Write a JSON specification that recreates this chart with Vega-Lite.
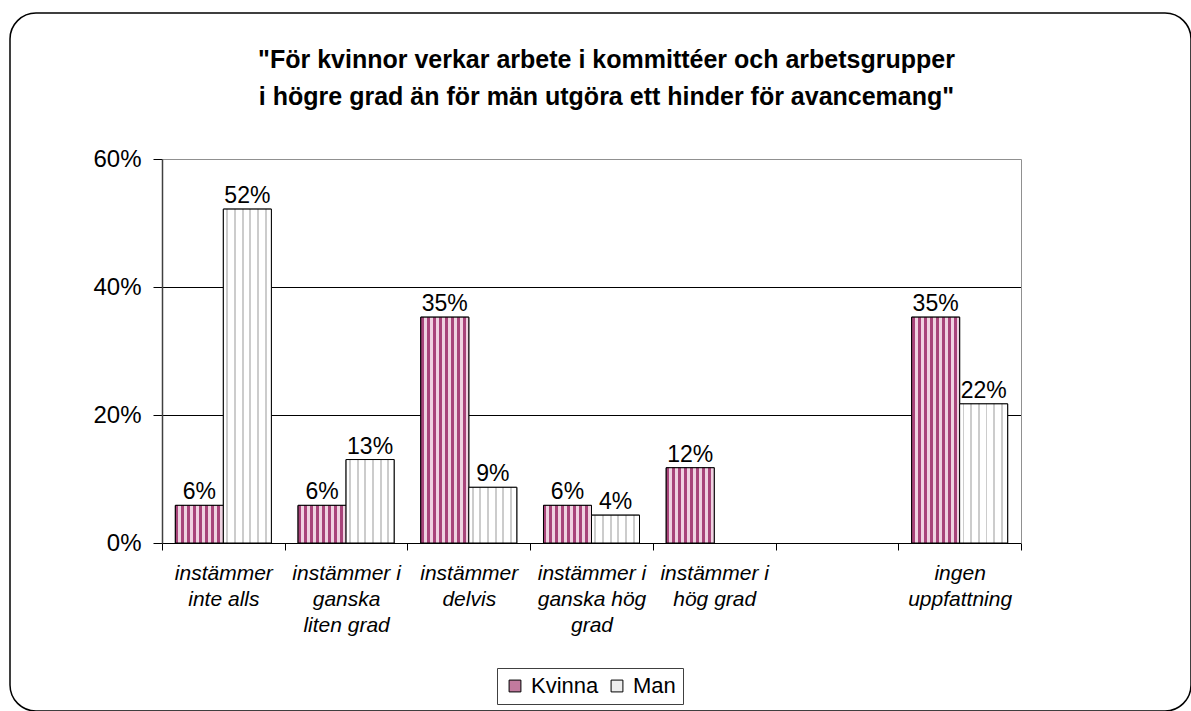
{
  "$schema": "https://vega.github.io/schema/vega-lite/v6.json",
  "width": 1181,
  "height": 698,
  "autosize": {"type": "none"},
  "padding": {"left": 10, "top": 13, "right": 0, "bottom": 0},
  "background": "white",
  "config": {
    "view": {"stroke": "black", "strokeWidth": 1.5, "cornerRadius": 26, "fill": "white"},
    "font": "Liberation Sans",
    "text": {"font": "Liberation Sans"}
  },
  "title": {
    "text": ["\"För kvinnor verkar arbete i kommittéer och arbetsgrupper", "i högre grad än för män utgöra ett hinder för avancemang\""],
    "font": "Liberation Sans",
    "fontSize": 25,
    "fontWeight": "bold",
    "color": "black",
    "anchor": "middle",
    "baseline": "top",
    "lineHeight": 37,
    "offset": -97,
    "dx": 6
  },
  "data": {
    "values": [
      {"cat": "instämmer\ninte alls", "sex": "Kvinna", "value": 0.0588},
      {"cat": "instämmer\ninte alls", "sex": "Man", "value": 0.5217},
      {"cat": "instämmer i\nganska\nliten grad", "sex": "Kvinna", "value": 0.0588},
      {"cat": "instämmer i\nganska\nliten grad", "sex": "Man", "value": 0.1304},
      {"cat": "instämmer\ndelvis", "sex": "Kvinna", "value": 0.3529},
      {"cat": "instämmer\ndelvis", "sex": "Man", "value": 0.087},
      {"cat": "instämmer i\nganska hög\ngrad", "sex": "Kvinna", "value": 0.0588},
      {"cat": "instämmer i\nganska hög\ngrad", "sex": "Man", "value": 0.0435},
      {"cat": "instämmer i\nhög grad", "sex": "Kvinna", "value": 0.1176},
      {"cat": "ingen\nuppfattning", "sex": "Kvinna", "value": 0.3529},
      {"cat": "ingen\nuppfattning", "sex": "Man", "value": 0.2174}
    ]
  },
  "encoding": {
    "x": {
      "field": "cat",
      "type": "nominal",
      "sort": null,
      "scale": {
        "domain": ["instämmer\ninte alls", "instämmer i\nganska\nliten grad", "instämmer\ndelvis", "instämmer i\nganska hög\ngrad", "instämmer i\nhög grad", " ", "ingen\nuppfattning"],
        "range": [152, 1011],
        "paddingInner": 0,
        "paddingOuter": 0
      },
      "axis": {
        "orient": "bottom",
        "offset": -168,
        "title": null,
        "grid": false,
        "tickBand": "extent",
        "domainColor": "black",
        "domainWidth": 1,
        "tickColor": "black",
        "tickSize": 7,
        "labelAngle": 0,
        "labelFont": "Liberation Sans",
        "labelFontSize": 21,
        "labelFontStyle": "italic",
        "labelColor": "black",
        "labelLineHeight": 26,
        "labelPadding": 12,
        "labelLimit": 0,
        "labelExpr": "datum.value ? split(datum.value, '\\n') : ''"
      }
    },
    "xOffset": {"field": "sex", "type": "nominal", "scale": {"domain": ["Kvinna", "Man"], "paddingInner": 0, "paddingOuter": 0.278}},
    "y": {
      "field": "value",
      "type": "quantitative",
      "stack": null,
      "scale": {"domain": [0, 0.6], "range": [530, 146], "nice": false, "zero": true}
    }
  },
  "layer": [
    {
      "mark": {"type": "bar", "stroke": "black", "strokeWidth": 1},
      "encoding": {
        "y": {
          "field": "value",
          "type": "quantitative",
          "stack": null,
          "axis": {
            "orient": "left",
            "offset": -152,
            "title": null,
            "values": [0, 0.2, 0.4, 0.6],
            "format": ".0%",
            "grid": true,
            "gridColor": {"condition": {"test": "datum.value >= 0.59", "value": "#909090"}, "value": "black"},
            "gridWidth": 1,
            "domainColor": "#404040",
            "domainWidth": 1.5,
            "tickColor": "black",
            "tickSize": 9,
            "labelFont": "Liberation Sans",
            "labelFontSize": 24,
            "labelColor": "black",
            "labelPadding": 12
          }
        },
        "color": {
          "field": "sex",
          "type": "nominal",
          "scale": {"domain": ["Kvinna", "Man"], "range": ["#c27a9e", "#eeeeee"]},
          "legend": {
            "orient": "none",
            "legendX": 487,
            "legendY": 655,
            "direction": "horizontal",
            "title": null,
            "strokeColor": "#404040",
            "padding": 7,
            "symbolType": "square",
            "symbolSize": 140,
            "symbolStrokeColor": "black",
            "symbolStrokeWidth": 1,
            "labelFont": "Liberation Sans",
            "labelFontSize": 22,
            "labelColor": "black",
            "columnPadding": 7,
            "labelOffset": 5
          }
        }
      }
    },
    {
      "transform": [{"filter": "datum.sex === 'Kvinna'"}],
      "mark": {
        "type": "bar", "stroke": "black", "strokeWidth": 1,
        "fill": {"gradient": "linear", "x1": 0, "y1": 0, "x2": 1, "y2": 0, "stops": [
          {"offset": 0, "color": "#a8447a"}, {"offset": 0.0625, "color": "#a8447a"}, {"offset": 0.0625, "color": "#efd3e1"}, {"offset": 0.125, "color": "#efd3e1"},
          {"offset": 0.125, "color": "#a8447a"}, {"offset": 0.1875, "color": "#a8447a"}, {"offset": 0.1875, "color": "#efd3e1"}, {"offset": 0.25, "color": "#efd3e1"},
          {"offset": 0.25, "color": "#a8447a"}, {"offset": 0.3125, "color": "#a8447a"}, {"offset": 0.3125, "color": "#efd3e1"}, {"offset": 0.375, "color": "#efd3e1"},
          {"offset": 0.375, "color": "#a8447a"}, {"offset": 0.4375, "color": "#a8447a"}, {"offset": 0.4375, "color": "#efd3e1"}, {"offset": 0.5, "color": "#efd3e1"},
          {"offset": 0.5, "color": "#a8447a"}, {"offset": 0.5625, "color": "#a8447a"}, {"offset": 0.5625, "color": "#efd3e1"}, {"offset": 0.625, "color": "#efd3e1"},
          {"offset": 0.625, "color": "#a8447a"}, {"offset": 0.6875, "color": "#a8447a"}, {"offset": 0.6875, "color": "#efd3e1"}, {"offset": 0.75, "color": "#efd3e1"},
          {"offset": 0.75, "color": "#a8447a"}, {"offset": 0.8125, "color": "#a8447a"}, {"offset": 0.8125, "color": "#efd3e1"}, {"offset": 0.875, "color": "#efd3e1"},
          {"offset": 0.875, "color": "#a8447a"}, {"offset": 0.9375, "color": "#a8447a"}, {"offset": 0.9375, "color": "#efd3e1"}, {"offset": 1, "color": "#efd3e1"}
        ]}
      },
      "encoding": {
        "y": {"field": "value", "type": "quantitative", "stack": null}
      }
    },
    {
      "transform": [{"filter": "datum.sex === 'Man'"}],
      "mark": {
        "type": "bar", "stroke": "black", "strokeWidth": 1,
        "fill": {"gradient": "linear", "x1": 0, "y1": 0, "x2": 1, "y2": 0, "stops": [
          {"offset": 0, "color": "#ffffff"}, {"offset": 0.06, "color": "#ffffff"}, {"offset": 0.06, "color": "#cccccc"}, {"offset": 0.1, "color": "#cccccc"}, {"offset": 0.1, "color": "#ffffff"},
          {"offset": 0.22, "color": "#ffffff"}, {"offset": 0.22, "color": "#cccccc"}, {"offset": 0.26, "color": "#cccccc"}, {"offset": 0.26, "color": "#ffffff"},
          {"offset": 0.38, "color": "#ffffff"}, {"offset": 0.38, "color": "#cccccc"}, {"offset": 0.42, "color": "#cccccc"}, {"offset": 0.42, "color": "#ffffff"},
          {"offset": 0.54, "color": "#ffffff"}, {"offset": 0.54, "color": "#cccccc"}, {"offset": 0.58, "color": "#cccccc"}, {"offset": 0.58, "color": "#ffffff"},
          {"offset": 0.7, "color": "#ffffff"}, {"offset": 0.7, "color": "#cccccc"}, {"offset": 0.74, "color": "#cccccc"}, {"offset": 0.74, "color": "#ffffff"},
          {"offset": 0.86, "color": "#ffffff"}, {"offset": 0.86, "color": "#cccccc"}, {"offset": 0.9, "color": "#cccccc"}, {"offset": 0.9, "color": "#ffffff"},
          {"offset": 1, "color": "#ffffff"}
        ]}
      },
      "encoding": {
        "y": {"field": "value", "type": "quantitative", "stack": null}
      }
    },
    {
      "mark": {"type": "text", "baseline": "bottom", "dy": -1, "fontSize": 23, "color": "black"},
      "encoding": {
        "text": {"field": "value", "type": "quantitative", "format": ".0%"},
        "y": {
          "field": "value",
          "type": "quantitative",
          "stack": null,
          "axis": {
            "orient": "right",
            "offset": -170,
            "title": null,
            "values": [0, 0.6],
            "labels": false,
            "ticks": false,
            "grid": false,
            "domainColor": "#909090",
            "domainWidth": 1
          }
        }
      }
    }
  ],
  "resolve": {"axis": {"y": "independent"}}
}
